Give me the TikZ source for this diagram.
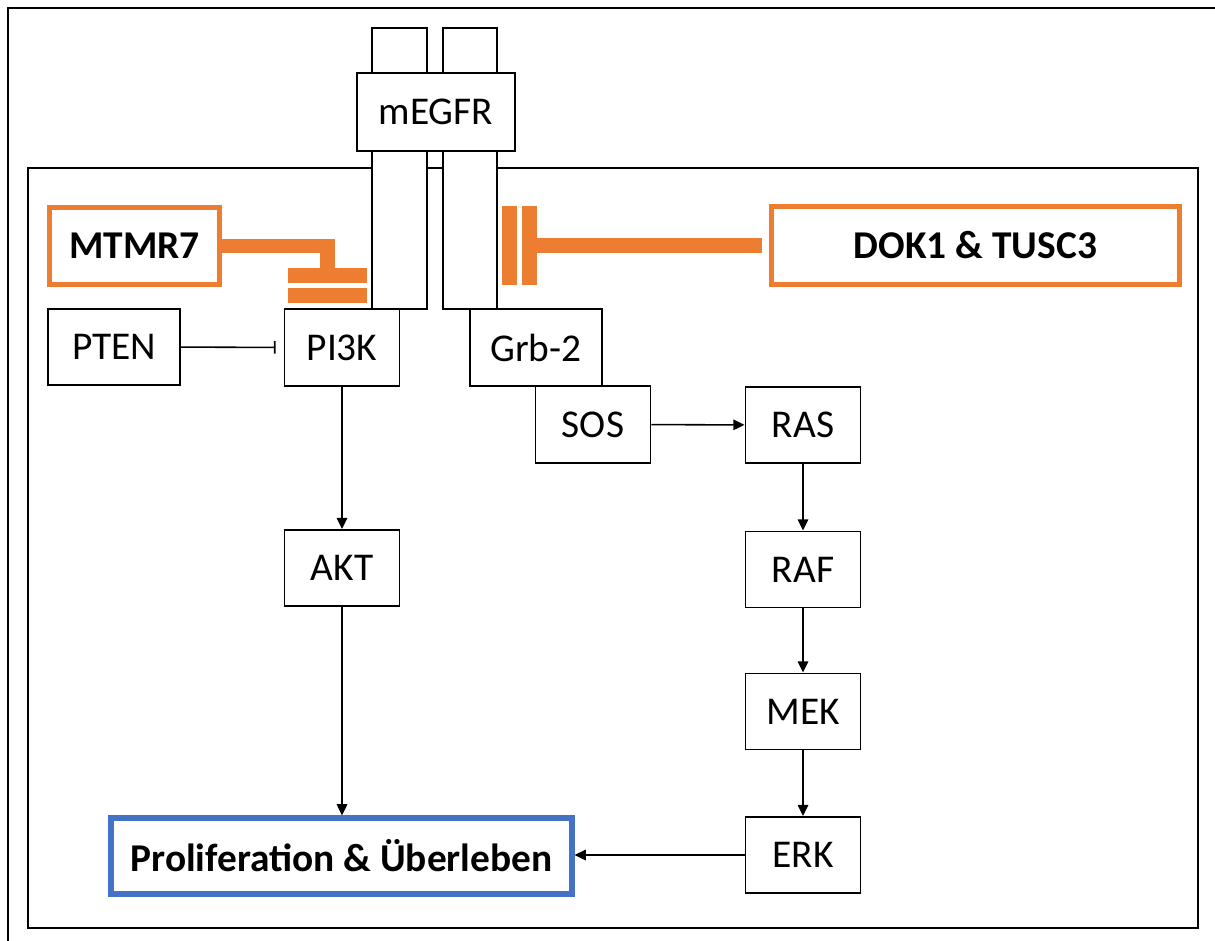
\documentclass[tikz,border=0pt]{standalone}
\usepackage{fontspec}
\setmainfont{Carlito}
\usepackage{tikz}
\usetikzlibrary{arrows.meta}

\definecolor{inhiborange}{HTML}{ED7D31}
\definecolor{outblue}{HTML}{4472C4}

% one pixel of the drawing grid
\newdimen\unitpx
\unitpx=0.025cm

\tikzset{
  box/.style={draw, line width=1.4pt, fill=white, inner sep=0pt,
    minimum width=115\unitpx, minimum height=76\unitpx,
    font=\fontsize{28}{30}\selectfont},
  part/.style={draw, line width=1.4pt, fill=white, inner sep=0pt},
  orangebox/.style={box, draw=inhiborange, line width=3.6pt,
    font=\fontsize{28}{30}\selectfont\bfseries},
  inhibbar/.style={fill=inhiborange, inner sep=0pt, outer sep=0pt},
  inhibline/.style={draw=inhiborange, line width=10pt},
  arr/.style={line width=1.1pt, -{Triangle[length=8pt,width=7.5pt]}},
  frame/.style={line width=2pt}
}

\begin{document}
\begin{tikzpicture}[x=0.025cm, y=-0.025cm]
\clip (0,0) rectangle (1215,940);

% outer frame and cell membrane
\draw[frame] (8,8) rectangle (1240,960);
\draw[frame] (28,168) rectangle (1198,928);

% receptor dimer
\node[part, minimum width=55\unitpx, minimum height=45\unitpx] (tabL) at (399.5,50.5) {};
\node[part, minimum width=54\unitpx, minimum height=45\unitpx] (tabR) at (470,50.5) {};
\node[part, minimum width=55\unitpx, minimum height=158\unitpx] (stalkL) at (399.5,230) {};
\node[part, minimum width=54\unitpx, minimum height=158\unitpx] (stalkR) at (470,230) {};
\node[box, minimum width=158\unitpx, minimum height=78\unitpx] (egfr) at (436,112) {mEGFR};

% inhibitors
\node[orangebox, minimum width=170\unitpx, minimum height=77\unitpx] (mtmr7) at (134.5,246) {MTMR7};
\node[orangebox, minimum width=408\unitpx, minimum height=78\unitpx] (dok) at (975.5,245.5) {DOK1 \& TUSC3};

\node[inhibbar, minimum width=79\unitpx, minimum height=15\unitpx] (mbar1) at (327.5,275.5) {};
\node[inhibbar, minimum width=79\unitpx, minimum height=15\unitpx] (mbar2) at (327.5,295.5) {};
\node[inhibbar, minimum width=15\unitpx, minimum height=79\unitpx] (dbar1) at (509.5,245.5) {};
\node[inhibbar, minimum width=15\unitpx, minimum height=79\unitpx] (dbar2) at (529.5,245.5) {};

\draw[inhibline] (mtmr7.east) -| (mbar1.north);
\draw[inhibline, shorten <=7\unitpx] (dok.west) -- (dbar2.east);

% PI3K branch
\node[box, minimum width=132\unitpx] (pten) at (114,347) {PTEN};
\node[box, minimum height=77\unitpx] (pi3k) at (342,347.5) {PI3K};
\node[box] (akt) at (342,568) {AKT};

% MAPK branch
\node[box, minimum width=132\unitpx, minimum height=77\unitpx] (grb) at (536,347.5) {Grb-2};
\node[box, minimum height=77\unitpx] (sos) at (593,424.5) {SOS};
\node[box] (ras) at (803,425) {RAS};
\node[box] (raf) at (803,569.5) {RAF};
\node[box] (mek) at (803,711.5) {MEK};
\node[box] (erk) at (803,855) {ERK};

% outcome
\node[box, draw=outblue, line width=3.6pt, minimum width=461\unitpx,
  font=\fontsize{28}{30}\selectfont\bfseries] (prolif) at (341.5,856) {Proliferation \& Überleben};

% signalling edges
\draw[line width=1.1pt, -{Bar[width=9pt]}, shorten >=8\unitpx] (pten) -- (pi3k);
\draw[arr] (pi3k) -- (akt);
\draw[arr] (akt) -- (akt |- prolif.north);
\draw[arr] (sos) -- (ras);
\draw[arr] (ras) -- (raf);
\draw[arr] (raf) -- (mek);
\draw[arr] (mek) -- (erk);
\draw[arr] (erk.west) -- (erk.west -| prolif.east);

\end{tikzpicture}
\end{document}
